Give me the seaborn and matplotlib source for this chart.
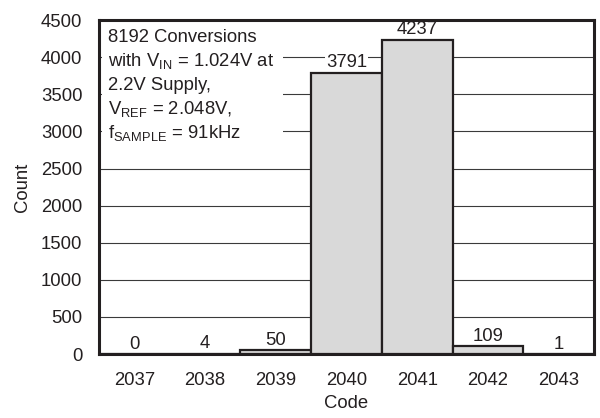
import numpy as np
import pandas as pd
import matplotlib
matplotlib.use("Agg")
import matplotlib.pyplot as plt
import seaborn as sns
from matplotlib.patches import Rectangle

# data
codes = ["2037", "2038", "2039", "2040", "2041", "2042", "2043"]
counts = [0, 4, 50, 3791, 4237, 109, 1]
note_lines = [
    "8192 Conversions",
    r"with V$_{\mathrm{IN}}$ = 1.024V at",
    "2.2V Supply,",
    r"V$_{\mathrm{REF}}$ = 2.048V,",
    r"f$_{\mathrm{SAMPLE}}$ = 91kHz",
]

df = pd.DataFrame({"Code": codes, "Count": counts})

sns.set_style("white")
plt.rcParams["font.family"] = ["Liberation Sans", "DejaVu Sans"]
plt.rcParams["mathtext.fontset"] = "custom"
plt.rcParams["mathtext.rm"] = "Liberation Sans"
plt.rcParams["mathtext.it"] = "Liberation Sans"

ink = "#231f20"
fs = 13.3
fig = plt.figure(figsize=(6, 4.18), dpi=100)
ax = fig.add_axes([0.165, 0.153, 0.825, 0.799])

sns.barplot(data=df, x="Code", y="Count", color="#d9d9d9", width=1.0,
            edgecolor=ink, linewidth=1.6, saturation=1, ax=ax, zorder=3)

ax.set_ylim(0, 4500)
ax.set_xlim(-0.5, 6.5)
ax.set_yticks(np.arange(0, 4501, 500))
ax.yaxis.grid(True, color="#3a3a3a", linewidth=0.8, zorder=0)
ax.set_axisbelow(True)
for s in ax.spines.values():
    s.set_color(ink)
    s.set_linewidth(2.2)

# x ticks sit at the bar edges, labels in the middle
ax.set_xticks(np.arange(-0.5, 7, 1), minor=True)
ax.tick_params(axis="x", which="minor", length=5, width=0.8, color=ink)
ax.tick_params(axis="x", which="major", length=0, pad=13)
ax.tick_params(axis="y", length=0, pad=12)
ax.tick_params(labelsize=fs, labelcolor=ink)
ax.set_xlabel("Code", fontsize=fs, color=ink, labelpad=4)
ax.set_ylabel("Count", fontsize=fs, color=ink, labelpad=7)

# value labels over each bar (white backing hides grid, but not the bars)
for i, c in enumerate(counts):
    ax.annotate(str(c), (i, c), xytext=(0, 1), textcoords="offset points",
                ha="center", va="bottom", fontsize=fs, color=ink, zorder=2.5,
                bbox=dict(facecolor="white", edgecolor="none", pad=0.5))

# note box in the top left
ax.add_patch(Rectangle((0.007, 0.61), 0.365, 0.385, transform=ax.transAxes,
                       facecolor="white", edgecolor="none", zorder=2))
for k, line in enumerate(note_lines):
    ax.text(0.018, 0.933 - k * 0.0719, line, transform=ax.transAxes,
            ha="left", va="baseline", fontsize=fs, color=ink, zorder=4)

fig.savefig("out.png", dpi=100)
